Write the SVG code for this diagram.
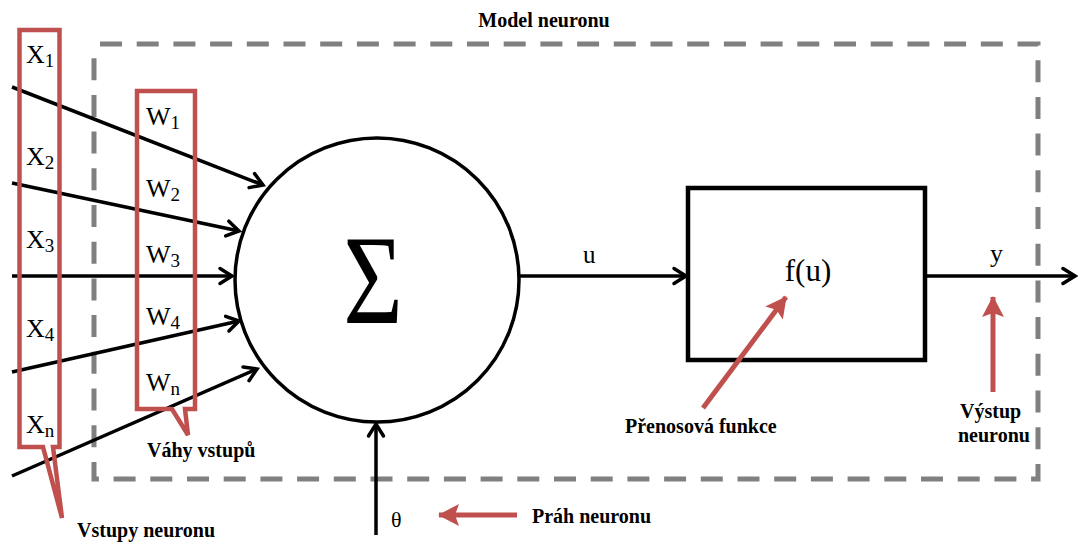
<svg xmlns="http://www.w3.org/2000/svg" width="1078" height="543" viewBox="0 0 1078 543">
  <style>
    .serif { font-family: "Liberation Serif", "Times New Roman", serif; fill: #000; }
    .sym { font-size: 26px; }
    .sub { font-size: 19px; }
    .caption { font-family: "Liberation Serif", "Times New Roman", serif; font-weight: bold; font-size: 20px; fill: #000; }
    .wire { stroke: #000; stroke-width: 3.5; fill: none; }
    .frame { stroke: #808080; stroke-width: 5; fill: none; stroke-dasharray: 22 14.7; stroke-dashoffset: 30.7; }
    .callout { stroke: #c0504d; stroke-width: 4.5; fill: none; stroke-linejoin: miter; }
    .pointer { stroke: #c0504d; stroke-width: 5; fill: none; }
  </style>
  <defs>
    <marker id="open-arrow" markerUnits="userSpaceOnUse" markerWidth="20" markerHeight="20" viewBox="-14 -10 16 20" refX="0" refY="0" orient="auto">
      <path d="M-12,-7.5 L0,0 L-12,7.5" fill="none" stroke="#000" stroke-width="3.5" stroke-linecap="round" stroke-linejoin="miter"/>
    </marker>
    <marker id="red-arrow" markerUnits="userSpaceOnUse" markerWidth="26" markerHeight="26" viewBox="-22 -13 24 26" refX="0" refY="0" orient="auto">
      <path d="M1,0 L-20,-11 L-16,0 L-20,11 Z" fill="#c0504d"/>
    </marker>
  </defs>

  <!-- dashed outline of the neuron model -->
  <g id="model-frame">
    <rect class="frame" x="94" y="44" width="944" height="435"/>
    <text class="caption" x="544" y="27" text-anchor="middle">Model neuronu</text>
  </g>

  <!-- connectors -->
  <g id="connectors">
    <line class="wire" x1="12" y1="87" x2="263" y2="185" marker-end="url(#open-arrow)"/>
    <line class="wire" x1="12" y1="183" x2="239" y2="231" marker-end="url(#open-arrow)"/>
    <line class="wire" x1="12" y1="276" x2="232" y2="276" marker-end="url(#open-arrow)"/>
    <line class="wire" x1="12" y1="372" x2="239" y2="321" marker-end="url(#open-arrow)"/>
    <line class="wire" x1="12" y1="476" x2="257" y2="369" marker-end="url(#open-arrow)"/>
    <line class="wire" x1="519" y1="276" x2="686" y2="276" marker-end="url(#open-arrow)"/>
    <line class="wire" x1="925" y1="276" x2="1075" y2="276" marker-end="url(#open-arrow)"/>
    <line class="wire" x1="376" y1="535" x2="376" y2="424" marker-end="url(#open-arrow)"/>
  </g>

  <!-- input labels with their callout -->
  <g id="inputs">
    <path class="callout" d="M19.5,30 H59.5 V447 H53 L62,518 L43,447 H19.5 Z"/>
    <text class="serif sym" x="26" y="63">X<tspan class="sub" dy="4">1</tspan></text>
    <text class="serif sym" x="26" y="165">X<tspan class="sub" dy="4">2</tspan></text>
    <text class="serif sym" x="26" y="248">X<tspan class="sub" dy="4">3</tspan></text>
    <text class="serif sym" x="26" y="337">X<tspan class="sub" dy="4">4</tspan></text>
    <text class="serif sym" x="26" y="433">X<tspan class="sub" dy="4">n</tspan></text>
    <text class="caption" x="77" y="537">Vstupy neuronu</text>
  </g>

  <!-- weight labels with their callout -->
  <g id="weights">
    <path class="callout" d="M137,91 H195 V409 H185 L188,435 L172,409 H137 Z"/>
    <text class="serif sym" x="146" y="125">W<tspan class="sub" dy="4">1</tspan></text>
    <text class="serif sym" x="146" y="197">W<tspan class="sub" dy="4">2</tspan></text>
    <text class="serif sym" x="146" y="263">W<tspan class="sub" dy="4">3</tspan></text>
    <text class="serif sym" x="146" y="325">W<tspan class="sub" dy="4">4</tspan></text>
    <text class="serif sym" x="146" y="391">W<tspan class="sub" dy="4">n</tspan></text>
    <text class="caption" x="147" y="457">Váhy vstupů</text>
  </g>

  <!-- summing junction -->
  <g id="sum">
    <circle cx="377" cy="280" r="142" fill="#fff" stroke="#000" stroke-width="3.5"/>
    <text class="serif" x="0" y="0" font-size="128" text-anchor="middle" transform="translate(373 323) scale(0.8 1)">Σ</text>
  </g>

  <g id="u-label">
    <text class="serif" x="583" y="263" font-size="25">u</text>
  </g>

  <!-- transfer function block -->
  <g id="transfer">
    <rect x="688" y="188" width="237" height="172" fill="#fff" stroke="#000" stroke-width="4.5"/>
    <text class="serif" x="808" y="281" font-size="31" text-anchor="middle">f(u)</text>
  </g>

  <g id="y-label">
    <text class="serif" x="990" y="262" font-size="26">y</text>
  </g>

  <!-- threshold -->
  <g id="threshold">
    <text class="serif" x="391" y="527" font-size="22">θ</text>
    <line class="pointer" x1="517" y1="515" x2="439" y2="515" marker-end="url(#red-arrow)"/>
    <text class="caption" x="532" y="523">Práh neuronu</text>
  </g>

  <!-- annotation: transfer function -->
  <g id="transfer-note">
    <line class="pointer" x1="703" y1="408" x2="786" y2="297" marker-end="url(#red-arrow)"/>
    <text class="caption" x="625" y="433">Přenosová funkce</text>
  </g>

  <!-- annotation: neuron output -->
  <g id="output-note">
    <line class="pointer" x1="993" y1="392" x2="993" y2="297" marker-end="url(#red-arrow)"/>
    <text class="caption" x="960" y="418">Výstup</text>
    <text class="caption" x="958" y="442">neuronu</text>
  </g>
</svg>
